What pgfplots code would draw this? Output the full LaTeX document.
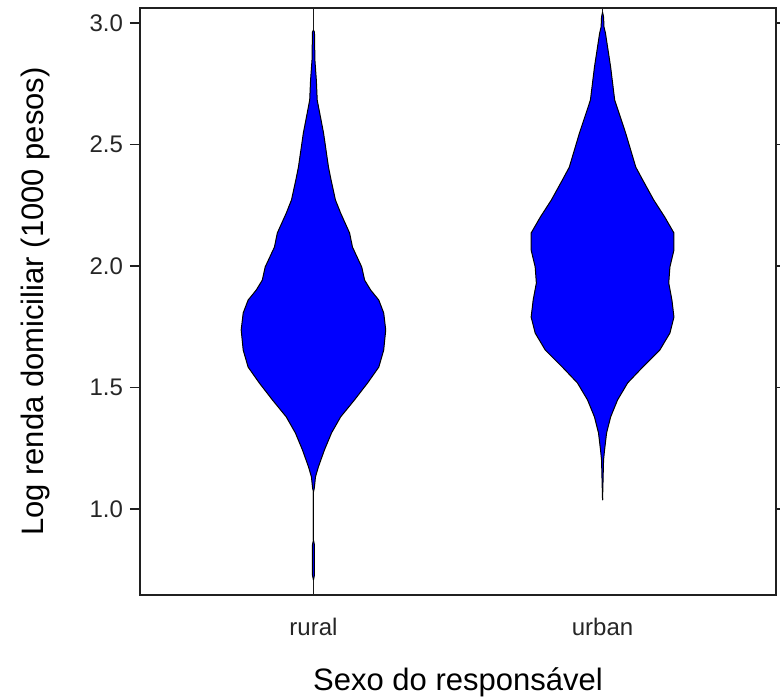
\documentclass[border=0pt]{standalone}
\usepackage{fontspec}
\setmainfont{Liberation Sans}
\usepackage{pgfplots}
\usepackage{pgfplotstable}
\usepgfplotslibrary{fillbetween}
\pgfplotsset{compat=1.18}

% Violin outlines: y = log income, w = half width (x units)
\pgfplotstableread{
y w
0.708 0
0.728 0.0035
0.852 0.0035
0.872 0
1.070 0
1.086 0.003
1.132 0.007
1.173 0.017
1.243 0.038
1.313 0.0625
1.379 0.094
1.449 0.142
1.519 0.1875
1.584 0.226
1.654 0.243
1.737 0.250
1.807 0.243
1.860 0.226
1.901 0.198
1.942 0.177
1.996 0.167
2.078 0.135
2.136 0.125
2.218 0.094
2.272 0.076
2.354 0.061
2.407 0.052
2.547 0.035
2.683 0.013
2.765 0.010
2.848 0.005
2.963 0.0035
2.971 0
}\ruraltab

\pgfplotstableread{
y w
1.037 0
1.202 0.0035
1.243 0.007
1.313 0.014
1.379 0.028
1.449 0.052
1.519 0.087
1.584 0.139
1.654 0.198
1.724 0.233
1.790 0.247
1.860 0.240
1.930 0.229
1.996 0.233
2.066 0.247
2.136 0.247
2.202 0.215
2.272 0.177
2.354 0.139
2.407 0.115
2.547 0.080
2.683 0.042
2.819 0.028
2.959 0.010
2.984 0.005
3.025 0.0035
3.045 0
}\urbantab

\begin{document}
\begin{tikzpicture}
\begin{axis}[
  name=a,
  set layers,
  scale only axis,
  width=318pt, height=293.5pt,
  xmin=0.4, xmax=2.6, ymin=0.646, ymax=3.062,
  xtick=\empty,
  extra x ticks={1,2}, extra x tick labels={rural,urban},
  extra x tick style={major tick length=0pt, tick style={draw=none}},
  ytick={1,1.5,2,2.5,3},
  ytick pos=both, yticklabel pos=left,
  tick align=outside,
  major tick length=5pt,
  tick style={gray!25!black, line width=0.75pt},
  axis line style={gray!25!black, line width=0.75pt},
  /pgf/number format/assume math mode=true,
  yticklabel style={/pgf/number format/.cd, fixed, fixed zerofill, precision=1},
  ticklabel style={font=\fontsize{12}{14}\selectfont, text=black!85},
  xticklabel style={anchor=center, yshift=-16pt},
  label style={font=\fontsize{15.5}{18}\selectfont},
  xlabel={Sexo do respons\'avel},
  ylabel={Log renda domiciliar (1000 pesos)},
  xlabel style={at={(axis description cs:0.5,-0.148)}, anchor=center},
  ylabel style={at={(axis description cs:-0.165,0.5)}, anchor=center},
]
% spine through each violin (data range), kept underneath the filled bodies
\addplot[gray!20!black, line width=0.75pt, on layer=axis background] coordinates {(1,0.646) (1,3.062)};
\addplot[gray!20!black, line width=0.75pt, on layer=axis background] coordinates {(2,1.037) (2,3.062)};

% rural
\addplot[draw=none, name path=rR] table[x expr=1+\thisrow{w}, y=y] {\ruraltab};
\addplot[draw=none, name path=rL] table[x expr=1-\thisrow{w}, y=y] {\ruraltab};
\addplot[fill=blue, draw=none] fill between[of=rR and rL];
\addplot[black, line width=0.5pt] table[x expr=1+\thisrow{w}, y=y] {\ruraltab};
\addplot[black, line width=0.5pt] table[x expr=1-\thisrow{w}, y=y] {\ruraltab};

% urban
\addplot[draw=none, name path=uR] table[x expr=2+\thisrow{w}, y=y] {\urbantab};
\addplot[draw=none, name path=uL] table[x expr=2-\thisrow{w}, y=y] {\urbantab};
\addplot[fill=blue, draw=none] fill between[of=uR and uL];
\addplot[black, line width=0.5pt] table[x expr=2+\thisrow{w}, y=y] {\urbantab};
\addplot[black, line width=0.5pt] table[x expr=2-\thisrow{w}, y=y] {\urbantab};
\end{axis}
\pgfresetboundingbox
\path ([xshift=-70pt, yshift=-51.5pt]a.south west) rectangle ([xshift=2pt, yshift=4pt]a.north east);
\end{tikzpicture}
\end{document}
